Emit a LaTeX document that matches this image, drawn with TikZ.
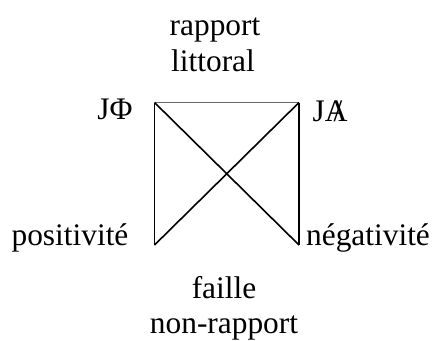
\documentclass[tikz,border=0pt]{standalone}
\usepackage{fontspec}
\setmainfont{Liberation Serif}
\begin{document}
\begin{tikzpicture}[x=1bp,y=-1bp,
  lbl/.style={inner sep=0pt,anchor=base,font=\fontsize{31.5}{36}\selectfont},
  heavy/.style={line width=1.6bp,black},
  light/.style={line width=0.7bp,black!60}]
\useasboundingbox (0,0) rectangle (436,340);
\coordinate (tl) at (154.5,102.5);
\coordinate (tr) at (299,102.5);
\coordinate (bl) at (154.5,245);
\coordinate (br) at (299,245);
\draw[light] (tl) -- (tr);
\draw[heavy] (tl) -- (bl);
\draw[heavy] (tr) -- (br);
\draw[heavy] (tl) -- (br);
\draw[heavy] (tr) -- (bl);
\node[lbl] (t1) at (215,35) {rapport};
\node[lbl] (t2) at (213,71) {littoral};
\node[lbl] (jphi) at (115,119) {JΦ};
\node[lbl] (ja) at (330,121) {J\ooalign{A\cr\hidewidth\kern0.12em/\hidewidth}};
\node[lbl] (pos) at (70,245) {positivité};
\node[lbl] (neg) at (368,245) {négativité};
\node[lbl] (b1) at (224,298) {faille};
\node[lbl] (b2) at (224,333) {non-rapport};
\end{tikzpicture}
\end{document}
